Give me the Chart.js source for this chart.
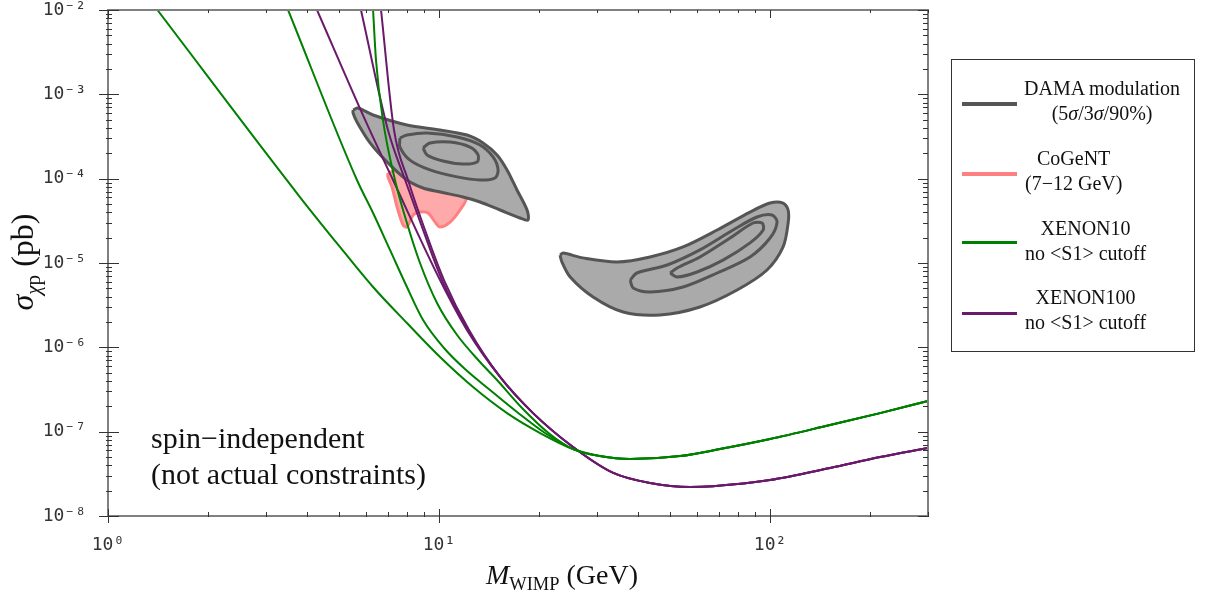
<!DOCTYPE html>
<html lang="en">
<head>
<meta charset="UTF-8">
<title>DAMA / CoGeNT / XENON limits</title>
<script src="https://cdn.jsdelivr.net/npm/chart.js@4.4.1/dist/chart.umd.min.js"></script>
<style>
  body { margin: 0; background: #fff; font-family: 'Liberation Serif', 'Times New Roman', serif; color: #111; }
  #wrap { position: relative; width: 1208px; height: 599px; overflow: hidden; }
  #chartCanvas { position: absolute; left: 0; top: 0; }
  sub { font-size: 0.66em; vertical-align: -0.35em; line-height: 0; }
  .ytitle { position: absolute; left: -78px; top: 244px; width: 200px; height: 36px; line-height: 36px;
            text-align: center; font-size: 32px; transform: rotate(-90deg); white-space: nowrap; }
  .xtitle { position: absolute; left: 412px; top: 558px; width: 300px; text-align: center; font-size: 28px; line-height: 34px; white-space: nowrap; }
  .note { position: absolute; left: 151px; top: 420px; font-size: 30px; line-height: 36px; white-space: nowrap; }
  #legend { position: absolute; left: 951px; top: 59px; width: 244px; height: 293px; border: 1.5px solid #333; box-sizing: border-box; }
  .swatch { position: absolute; left: 10px; width: 55px; }
  .txt { position: absolute; left: 72px; font-size: 20px; line-height: 25px; text-align: center; white-space: nowrap; }
</style>
</head>
<body>
<div id="wrap">
  <canvas id="chartCanvas" width="1208" height="599"></canvas>
  <div class="ytitle"><i>σ</i><sub><i>χ</i>p</sub> (pb)</div>
  <div class="xtitle"><i>M</i><sub>WIMP</sub> (GeV)</div>
  <div class="note">spin−independent<br>(not actual constraints)</div>
  <div id="legend">
    <div class="swatch" style="top:42px;height:4px;background:#555;"></div>
    <div class="txt" style="top:16px;">DAMA modulation<br>(5<i>σ</i>/3<i>σ</i>/90%)</div>
    <div class="swatch" style="top:112px;height:4px;background:#ff8080;"></div>
    <div class="txt" style="top:86px;left:73px;">CoGeNT<br>(7−12 GeV)</div>
    <div class="swatch" style="top:181px;height:3px;background:#008000;"></div>
    <div class="txt" style="top:156px;left:73px;">XENON10<br>no &lt;S1&gt; cutoff</div>
    <div class="swatch" style="top:252px;height:3px;background:#6a1a6a;"></div>
    <div class="txt" style="top:225px;left:73px;">XENON100<br>no &lt;S1&gt; cutoff</div>
  </div>
</div>

<script>
// axis ranges
const massRange = [1, 300];        // GeV
const sigmaRange = [1e-8, 1e-2];   // pb

// XENON10, no <S1> cutoff: three curves that merge into one tail
const xe10MassA = [1.41, 3.80, 5.02, 6.32, 8.00, 10.07, 12.67, 16.05, 20.2, 25.4];
const xe10SigmaA = [1e-2, 6.06e-5, 1.55e-5, 5.19e-6, 1.94e-6, 7.67e-7, 3.38e-7, 1.66e-7, 9.64e-8, 6.22e-8];
const xe10MassB = [3.50, 5.65, 6.32, 7.11, 8.00, 8.95, 10.35, 12.07, 14.26, 17.20, 20.9, 25.4];
const xe10SigmaB = [1e-2, 9.64e-5, 3.92e-5, 1.43e-5, 5.19e-6, 2.11e-6, 9.82e-7, 5.38e-7, 3.12e-7, 1.71e-7, 9.64e-8, 6.22e-8];
const xe10MassC = [6.32, 6.45, 6.77, 7.36, 8.00, 8.76, 9.86, 11.34, 13.30, 14.97, 17.81, 21.6, 25.4];
const xe10SigmaC = [1e-2, 2.55e-3, 4.97e-4, 9.64e-5, 2.98e-5, 1.0e-5, 3.36e-6, 1.40e-6, 6.70e-7, 4.10e-7, 1.91e-7, 9.38e-8, 6.22e-8];
const xe10TailMass = [30.6, 37.8, 53.5, 70.6, 100, 151.8, 214.9, 300];
const xe10TailSigma = [5.14e-8, 4.74e-8, 5.14e-8, 6.22e-8, 8.18e-8, 1.20e-7, 1.66e-7, 2.31e-7];

// XENON100, no <S1> cutoff: three curves that merge into one tail
const xe100MassA = [4.28, 5.98, 7.26, 10.07, 12.15];
const xe100SigmaA = [1e-2, 4.97e-4, 9.64e-5, 6.28e-6, 1.60e-6];
const xe100MassB = [5.81, 7.01, 7.90, 8.95, 10.21, 12.24];
const xe100SigmaB = [1e-2, 3.78e-4, 9.64e-5, 2.46e-5, 6.28e-6, 1.60e-6];
const xe100MassC = [6.68, 7.31, 8.06, 9.07, 10.35, 12.32];
const xe100SigmaC = [1e-2, 3.78e-4, 9.64e-5, 2.46e-5, 6.28e-6, 1.60e-6];
const xe100TailMass = [15.29, 19.23, 25.4, 33.6, 43.4, 57.3, 67.3, 100, 151.8, 214.9, 300];
const xe100TailSigma = [4.45e-7, 1.66e-7, 6.58e-8, 3.24e-8, 2.46e-8, 2.21e-8, 2.26e-8, 2.67e-8, 3.71e-8, 5.00e-8, 6.40e-8];

// DAMA modulation, low-mass island (5 sigma / 3 sigma / 90%)
const dama1OuterMass = [5.50, 5.69, 6.32, 8.00, 10.07, 12.15, 13.58, 14.97, 16.05, 17.20, 18.45, 18.57, 17.56, 15.29, 13.30, 11.82, 10.07, 8.95, 8.00, 6.96, 6.19, 5.65, 5.50];
const dama1OuterSigma = [6.52e-4, 6.89e-4, 5.69e-4, 4.33e-4, 3.78e-4, 3.29e-4, 2.65e-4, 1.91e-4, 1.27e-4, 7.34e-5, 4.25e-5, 3.23e-5, 3.42e-5, 4.25e-5, 5.29e-5, 6.06e-5, 6.95e-5, 7.75e-5, 9.64e-5, 1.58e-4, 2.65e-4, 4.70e-4, 6.01e-4];
const dama1MidMass = [7.62, 8.00, 9.20, 11.34, 13.30, 14.56, 15.08, 14.76, 13.30, 11.34, 9.39, 8.17, 7.62];
const dama1MidSigma = [3.03e-4, 3.29e-4, 3.48e-4, 3.12e-4, 2.51e-4, 1.81e-4, 1.27e-4, 1.02e-4, 9.64e-5, 1.05e-4, 1.27e-4, 1.66e-4, 2.37e-4];
const dama1InnerMass = [8.95, 9.39, 10.80, 12.41, 13.12, 13.03, 11.82, 10.28, 9.20];
const dama1InnerSigma = [2.31e-4, 2.65e-4, 2.72e-4, 2.37e-4, 1.91e-4, 1.58e-4, 1.49e-4, 1.62e-4, 1.91e-4];

// DAMA modulation, high-mass island
const dama2OuterMass = [23.2, 23.7, 27.2, 34.5, 43.4, 54.6, 69.2, 87.0, 100, 109.5, 113.4, 113.4, 109.5, 97.9, 79.5, 61.4, 46.5, 36.0, 29.2, 24.9, 23.5];
const dama2OuterSigma = [1.24e-5, 1.31e-5, 1.15e-5, 1.03e-5, 1.18e-5, 1.55e-5, 2.46e-5, 4.02e-5, 5.14e-5, 5.14e-5, 4.25e-5, 2.98e-5, 1.55e-5, 8.26e-6, 4.78e-6, 3.01e-6, 2.42e-6, 2.62e-6, 3.95e-6, 6.82e-6, 1.03e-5];
const dama2MidMass = [37.8, 39.6, 48.9, 61.4, 77.3, 91.3, 101.4, 105.0, 100, 87.0, 69.2, 54.6, 43.4, 38.6];
const dama2MidSigma = [6.28e-6, 7.61e-6, 9.47e-6, 1.43e-5, 2.46e-5, 3.51e-5, 3.71e-5, 3.06e-5, 1.98e-5, 1.18e-5, 7.61e-6, 5.19e-6, 4.53e-6, 5.05e-6];
const dama2InnerMass = [49.9, 52.4, 61.4, 75.7, 88.8, 94.6, 95.3, 87.0, 72.1, 60.2, 52.4];
const dama2InnerSigma = [7.61e-6, 8.72e-6, 1.18e-5, 1.98e-5, 2.98e-5, 2.98e-5, 2.46e-5, 1.73e-5, 1.08e-5, 7.82e-6, 6.82e-6];

// CoGeNT (7-12 GeV) region
const cogentMass = [7.01, 7.52, 8.00, 8.76, 9.59, 10.80, 12.07, 11.57, 10.80, 10.07, 9.73, 9.26, 8.76, 8.35, 8.00, 7.79, 7.47, 7.21, 7.01];
const cogentSigma = [1.17e-4, 1.27e-4, 1.27e-4, 1.02e-4, 7.96e-5, 6.76e-5, 5.90e-5, 4.25e-5, 3.06e-5, 2.67e-5, 3.06e-5, 3.92e-5, 4.02e-5, 3.71e-5, 2.67e-5, 2.82e-5, 4.61e-5, 7.96e-5, 1.05e-4];

const GREEN = '#008000';
const PURPLE = '#6a1a6a';

function pts(mass, sigma) {
    return mass.map((m, i) => ({ x: m, y: sigma[i] }));
}
function closed(mass, sigma) {
    const p = pts(mass, sigma);
    p.push({ x: mass[0], y: sigma[0] });
    return p;
}
function curve(mass, sigma, color, order) {
    return {
        data: pts(mass, sigma),
        borderColor: color,
        borderWidth: 2,
        pointRadius: 0,
        fill: false,
        cubicInterpolationMode: 'monotone',
        order: order
    };
}
function region(mass, sigma, fillColor, lineColor, order) {
    return {
        data: closed(mass, sigma),
        borderColor: lineColor,
        backgroundColor: fillColor,
        borderWidth: 3,
        pointRadius: 0,
        fill: 'shape',
        tension: 0.3,
        order: order
    };
}

const SUP = { '-': '⁻', '0': '⁰', '1': '¹', '2': '²', '3': '³', '4': '⁴', '5': '⁵', '6': '⁶', '7': '⁷', '8': '⁸', '9': '⁹' };
function isPow10(v) {
    const l = Math.log10(v);
    return Math.abs(l - Math.round(l)) < 1e-6;
}
function powLabel(v) {
    if (!isPow10(v)) return '';
    return '10' + String(Math.round(Math.log10(v))).split('').map(c => SUP[c]).join('');
}
// 1..9 x 10^e inside [min, max]
function decadeTicks(min, max) {
    const out = [];
    for (let e = Math.floor(Math.log10(min)); e <= Math.ceil(Math.log10(max)); e++) {
        for (let k = 1; k < 10; k++) {
            const v = Number((k * Math.pow(10, e)).toPrecision(4));
            if (v >= min * 0.9999 && v <= max * 1.0001) out.push({ value: v });
        }
    }
    return out;
}

// frame on all four sides with inward ticks
const frameTicks = {
    id: 'frameTicks',
    afterDatasetsDraw(chart) {
        const { ctx, chartArea: a, scales: { x, y } } = chart;
        ctx.save();
        ctx.strokeStyle = '#808080';
        ctx.lineWidth = 2;
        ctx.strokeRect(a.left, a.top, a.right - a.left, a.bottom - a.top);
        ctx.strokeStyle = '#333';
        ctx.lineWidth = 1;
        ctx.beginPath();
        x.ticks.forEach(t => {
            const px = Math.round(x.getPixelForValue(t.value)) + 0.5;
            const big = isPow10(t.value);
            ctx.moveTo(px, a.bottom + (big ? 7 : 1));
            ctx.lineTo(px, a.bottom - (big ? 7 : 4));
            ctx.moveTo(px, a.top);
            ctx.lineTo(px, a.top + (big ? 8 : 3));
        });
        y.ticks.forEach(t => {
            const py = Math.round(y.getPixelForValue(t.value)) + 0.5;
            const big = isPow10(t.value);
            ctx.moveTo(a.left - (big ? 9 : 2), py);
            ctx.lineTo(a.left + (big ? 11 : 4), py);
            ctx.moveTo(a.right, py);
            ctx.lineTo(a.right - (big ? 10 : 5), py);
        });
        ctx.stroke();
        ctx.restore();
    }
};

const datasets = [
    curve(xe10MassA.concat(xe10TailMass), xe10SigmaA.concat(xe10TailSigma), GREEN, 1),
    curve(xe10MassB.concat(xe10TailMass), xe10SigmaB.concat(xe10TailSigma), GREEN, 1),
    curve(xe10MassC.concat(xe10TailMass), xe10SigmaC.concat(xe10TailSigma), GREEN, 1),
    curve(xe100MassA.concat(xe100TailMass), xe100SigmaA.concat(xe100TailSigma), PURPLE, 1),
    curve(xe100MassB.concat(xe100TailMass), xe100SigmaB.concat(xe100TailSigma), PURPLE, 1),
    curve(xe100MassC.concat(xe100TailMass), xe100SigmaC.concat(xe100TailSigma), PURPLE, 1),
    region(dama1InnerMass, dama1InnerSigma, '#aaaaaa', '#555555', 2),
    region(dama1MidMass, dama1MidSigma, '#aaaaaa', '#555555', 3),
    region(dama1OuterMass, dama1OuterSigma, '#aaaaaa', '#555555', 4),
    region(dama2InnerMass, dama2InnerSigma, '#aaaaaa', '#555555', 2),
    region(dama2MidMass, dama2MidSigma, '#aaaaaa', '#555555', 3),
    region(dama2OuterMass, dama2OuterSigma, '#aaaaaa', '#555555', 4),
    region(cogentMass, cogentSigma, '#ffaaaa', '#ff8080', 5)
];

const tickFont = { family: "'DejaVu Sans Mono', monospace", size: 18 };

new Chart(document.getElementById('chartCanvas').getContext('2d'), {
    type: 'line',
    data: { datasets: datasets },
    options: {
        responsive: false,
        animation: false,
        events: [],
        layout: { padding: { top: 10, right: 280, left: 0, bottom: 0 } },
        plugins: { legend: { display: false }, tooltip: { enabled: false } },
        scales: {
            x: {
                type: 'logarithmic',
                min: massRange[0],
                max: massRange[1],
                grid: { display: false },
                border: { display: false },
                afterBuildTicks: s => { s.ticks = decadeTicks(massRange[0], massRange[1]); },
                afterFit: s => { s.height = 83; s.paddingLeft = 0; s.paddingRight = 0; },
                ticks: { autoSkip: false, maxRotation: 0, padding: 11, color: '#333', font: tickFont, callback: v => powLabel(v) }
            },
            y: {
                type: 'logarithmic',
                min: sigmaRange[0],
                max: sigmaRange[1],
                grid: { display: false },
                border: { display: false },
                afterBuildTicks: s => { s.ticks = decadeTicks(sigmaRange[0], sigmaRange[1]); },
                afterFit: s => { s.width = 108; s.paddingTop = 0; s.paddingBottom = 0; },
                ticks: { autoSkip: false, padding: 14, color: '#333', font: tickFont, callback: v => powLabel(v) }
            }
        }
    },
    plugins: [frameTicks]
});
</script>
</body>
</html>
